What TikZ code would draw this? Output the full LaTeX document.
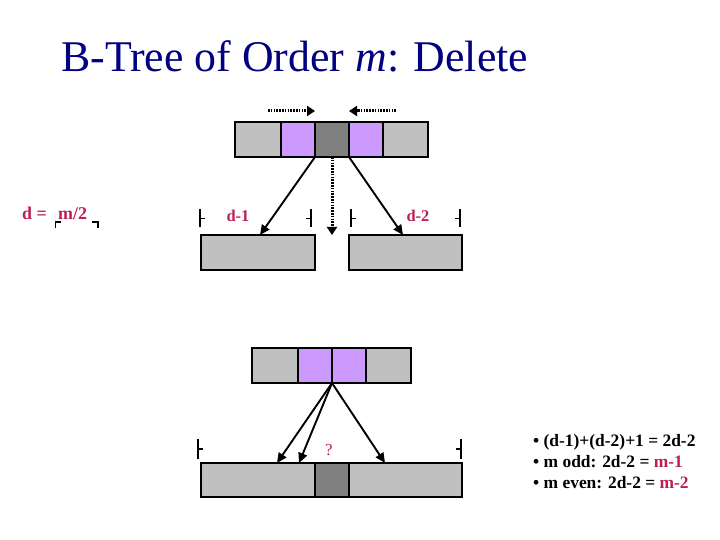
\documentclass[tikz,border=0pt]{standalone}
\usepackage{fontspec}
\setmainfont{Liberation Serif}
\usetikzlibrary{arrows.meta}
\definecolor{navy}{RGB}{0,0,128}
\definecolor{crim}{RGB}{188,32,78}
\definecolor{lgray}{RGB}{192,192,192}
\definecolor{dgray}{RGB}{128,128,128}
\definecolor{lilac}{RGB}{204,153,255}
\begin{document}
\begin{tikzpicture}[x=1bp,y=-1bp,
  cell/.style={draw=black, line width=2bp, inner sep=0pt, outer sep=0pt, anchor=north west, minimum height=35bp},
  arr/.style={line width=1.9bp, -{Triangle[length=10bp,width=9bp]}},
  dotarr/.style={line width=3bp, dash pattern=on 1.6bp off 1.2bp, -{Triangle[length=8bp,width=10bp]}},
  brk/.style={line width=1.8bp},
  lab/.style={font=\bfseries\fontsize{16.5}{20}\selectfont, text=crim, inner sep=0pt, anchor=base},
  txt/.style={font=\bfseries\fontsize{17.5}{21}\selectfont, inner sep=0pt, anchor=base west}]
\useasboundingbox (0,0) rectangle (720,540);
% title
\node[font=\fontsize{44}{50}\selectfont, text=navy, inner sep=0pt, anchor=base west] (title) at (61,72) {B-Tree of Order \textit{m}: Delete};
% d = ceil(m/2)
\node[lab, anchor=base west, font=\bfseries\fontsize{18}{20}\selectfont] (deq) at (22,220) {d =};
\node[lab, anchor=base west, font=\bfseries\fontsize{18}{20}\selectfont] (m2) at (58,220) {m/2};
\draw[brk] (55.5,228) -- (55.5,222) -- (61,222);
\draw[brk] (92,222) -- (98,222) -- (98,228);
% top parent
\node[cell, fill=lgray, minimum width=46bp] (t1) at (235,122) {};
\node[cell, fill=lilac, minimum width=34bp] (t2) at (281,122) {};
\node[cell, fill=dgray, minimum width=34bp] (t3) at (315,122) {};
\node[cell, fill=lilac, minimum width=34bp] (t4) at (349,122) {};
\node[cell, fill=lgray, minimum width=45bp] (t5) at (383,122) {};
% children
\node[cell, fill=lgray, minimum width=114bp] (lc) at (201,235) {};
\node[cell, fill=lgray, minimum width=113bp] (rc) at (349,235) {};
% dotted arrows
\coordinate (dl0) at (268,111);
\coordinate (dr0) at (396,111);
\draw[dotarr] (dl0) -- (t3.north west |- dl0);
\draw[dotarr] (dr0) -- (t4.north west |- dr0);
\draw[dotarr] (t3.south) -- (t3.south |- lc.north);
% solid arrows
\draw[arr] (t3.south west) -- ([xshift=59bp]lc.north west);
\draw[arr] (t4.south west) -- ([xshift=54bp]rc.north west);
% brackets
\draw[brk] (200,209) -- (200,227) (200,218.5) -- (205,218.5);
\draw[brk] (311,209) -- (311,227) (311,218.5) -- (306,218.5);
\draw[brk] (351,209) -- (351,227) (351,218.5) -- (356,218.5);
\draw[brk] (460,209) -- (460,227) (460,218.5) -- (455,218.5);
\node[lab] (l1) at (238,222) {d-1};
\node[lab] (l2) at (418,222) {d-2};
% bottom parent
\node[cell, fill=lgray, minimum width=46bp] (b1) at (252,348) {};
\node[cell, fill=lilac, minimum width=34bp] (b2) at (298,348) {};
\node[cell, fill=lilac, minimum width=34bp] (b3) at (332,348) {};
\node[cell, fill=lgray, minimum width=45bp] (b4) at (366,348) {};
% merged child
\node[cell, fill=lgray, minimum width=114bp, minimum height=34bp] (m1) at (201,463) {};
\node[cell, fill=dgray, minimum width=34bp, minimum height=34bp] (m2c) at (315,463) {};
\node[cell, fill=lgray, minimum width=113bp, minimum height=34bp] (m3) at (349,463) {};
\draw[arr] (b3.south west) -- ([xshift=76bp]m1.north west);
\draw[arr] (b3.south west) -- ([xshift=98bp]m1.north west);
\draw[arr] (b3.south west) -- ([xshift=36bp]m3.north west);
\draw[brk] (198,439) -- (198,459) (198,449) -- (203,449);
\draw[brk] (461,439) -- (461,459) (461,449) -- (456,449);
\node[lab, font=\fontsize{17}{20}\selectfont] (q) at (329,455) {?};
% bullets
\node[txt] (s1) at (533,446) {• (d-1)+(d-2)+1 = 2d-2};
\node[txt] (s2) at (533,467) {• m odd: 2d-2 = \textcolor{crim}{m-1}};
\node[txt] (s3) at (533,488) {• m even: 2d-2 = \textcolor{crim}{m-2}};
\end{tikzpicture}
\end{document}
